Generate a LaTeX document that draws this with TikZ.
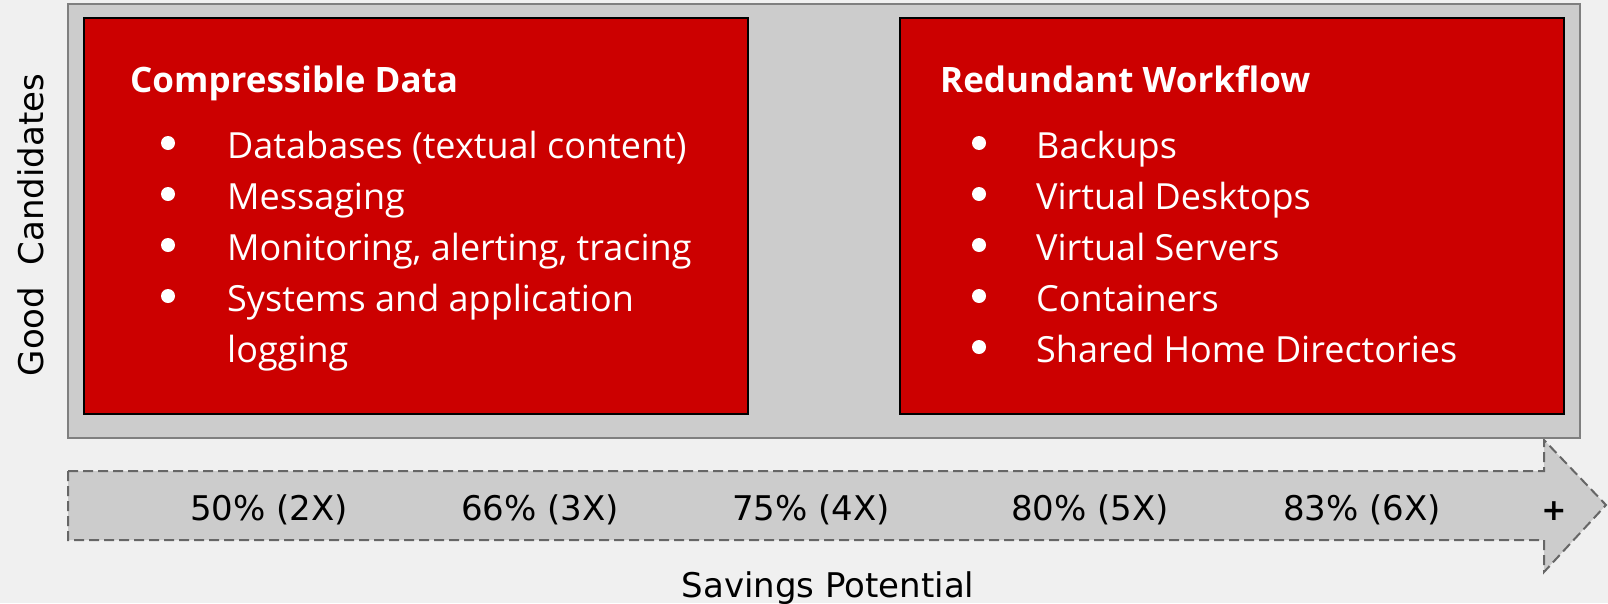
\documentclass[tikz,border=0pt]{standalone}
\usepackage{fontspec}
\setmainfont{Open Sans}
\newfontfamily\axisfont{DejaVu Sans}
\definecolor{bgc}{HTML}{F0F0F0}
\definecolor{panelfill}{HTML}{CCCCCC}
\definecolor{panelline}{HTML}{7F7F7F}
\definecolor{boxred}{HTML}{CC0000}
\definecolor{dashc}{HTML}{666666}
\begin{document}
\begin{tikzpicture}[x=1pt,y=-1pt,
  panel/.style={draw=panelline, line width=2pt, fill=panelfill, minimum width=1512pt, minimum height=434pt, inner sep=0pt, outer sep=0pt},
  redbox/.style={draw=black, line width=2pt, fill=boxred, minimum width=664pt, minimum height=396pt, inner sep=0pt, outer sep=0pt},
  boxtitle/.style={anchor=base west, text=white, font=\fontsize{35}{42}\selectfont\bfseries, inner sep=0pt},
  item/.style={anchor=base west, text=white, font=\fontsize{36}{43}\selectfont, inner sep=0pt},
  dot/.style={circle, fill=white, minimum size=14pt, inner sep=0pt},
  lbl/.style={font=\axisfont\fontsize{34}{40}\selectfont, anchor=base, inner sep=0pt},
  arrowshape/.style={fill=panelfill, draw=dashc, line width=2pt, dash pattern=on 10pt off 5pt}
]
\useasboundingbox[fill=bgc] (0,0) rectangle (1608,603);
% arrow
\draw[arrowshape] (68,471) -- (1544,471) -- (1544,440) -- (1606,505) -- (1544,572) -- (1544,540) -- (68,540) -- cycle;
% panel and boxes
\node[panel] (panel) at (824,221) {};
\node[redbox] (left) at (416,216) {};
\node[redbox] (right) at (1232,216) {};
% left box
\node[boxtitle] (ltitle) at (130,92) {Compressible Data};
\node[item] (l1) at (227,158) {Databases (textual content)};
\node[item] (l2) at (227,209) {Messaging};
\node[item] (l3) at (227,260) {Monitoring, alerting, tracing};
\node[item] (l4) at (227,311) {Systems and application};
\node[item] (l5) at (227,362) {logging};
\node[dot] (ld1) at (168,143) {};
\node[dot] (ld2) at (168,194) {};
\node[dot] (ld3) at (168,245) {};
\node[dot] (ld4) at (168,296) {};
% right box
\node[boxtitle] (rtitle) at (940,92) {Redundant Workflow};
\node[item] (r1) at (1036,158) {Backups};
\node[item] (r2) at (1036,209) {Virtual Desktops};
\node[item] (r3) at (1036,260) {Virtual Servers};
\node[item] (r4) at (1036,311) {Containers};
\node[item] (r5) at (1036,362) {Shared Home Directories};
\node[dot] (rd1) at (979,143) {};
\node[dot] (rd2) at (979,194) {};
\node[dot] (rd3) at (979,245) {};
\node[dot] (rd4) at (979,296) {};
\node[dot] (rd5) at (979,347) {};
% axis labels
\node[lbl] (p2) at (269,520) {50\% (2X)};
\node[lbl] (p3) at (540,520) {66\% (3X)};
\node[lbl] (p4) at (811,520) {75\% (4X)};
\node[lbl] (p5) at (1090,520) {80\% (5X)};
\node[lbl] (p6) at (1362,520) {83\% (6X)};
\node[lbl, font=\axisfont\fontsize{30}{36}\selectfont\bfseries] (pplus) at (1554,520) {+};
\node[lbl] (xaxis) at (828,597) {Savings Potential};
\node[lbl, rotate=90] (yaxis) at (43,225) {Good\ \ Candidates};
\end{tikzpicture}
\end{document}
